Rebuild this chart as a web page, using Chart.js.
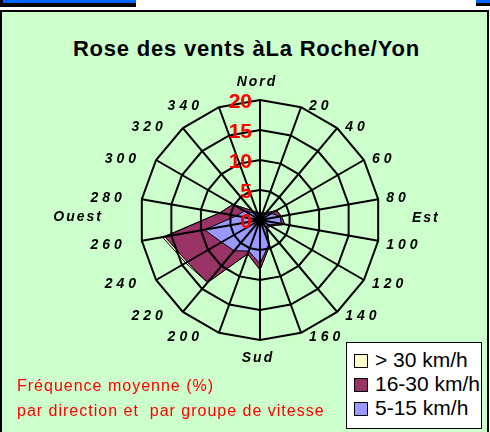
<!DOCTYPE html>
<html>
<head>
<meta charset="utf-8">
<title>Rose des vents</title>
<script src="https://cdn.jsdelivr.net/npm/chart.js@4.4.1/dist/chart.umd.min.js"></script>
<style>
    body { margin: 0; width: 490px; height: 432px; overflow: hidden; position: relative; background: #fff; font-family: Arial, "Liberation Sans", sans-serif; }
    .topbar { position: absolute; top: 0; height: 7px; background: #000; }
    .topbar span { position: absolute; top: 0; left: 3px; right: 0; height: 3px; background: #0066ff; }
    #frame { position: absolute; left: 0; top: 10px; width: 485px; height: 430px; background: #ccffcc; border: 2px solid #000; border-bottom: none; }
    #title { position: absolute; left: 0; top: 36px; width: 493px; text-align: center; font-weight: bold; font-size: 22px; line-height: 26px; letter-spacing: 0.8px; color: #000; }
    #chart { position: absolute; left: 0; top: 0; }
    #note { position: absolute; left: 17px; top: 373px; color: #ff0000; font-size: 16px; line-height: 25px; letter-spacing: 1px; white-space: pre; }
    #legend { position: absolute; left: 346px; top: 342px; width: 134px; height: 85px; background: #fff; border: 1.5px solid #000; }
    .item { position: absolute; left: 7px; height: 24px; font-size: 21px; line-height: 24px; white-space: nowrap; }
    .item i { display: inline-block; width: 12px; height: 12px; border: 1px solid #000; margin-right: 7px; vertical-align: -1px; }
</style>
</head>
<body>
<div class="topbar" style="left:0;width:136px"><span></span></div>
<div class="topbar" style="left:476px;width:14px;height:6px"><span style="left:0"></span></div>
<div id="frame"></div>
<div id="title">Rose des vents àLa Roche/Yon</div>
<canvas id="chart" width="490" height="432"></canvas>
<div id="note">Fréquence moyenne (%)
par direction et  par groupe de vitesse</div>
<div id="legend"></div>

<script>
// directions every 20 degrees, clockwise from north
const directions = ["Nord", "20", "40", "60", "80", "100", "120", "140", "160",
                    "Sud", "200", "220", "240", "260", "280", "300", "320", "340"];
const compassLabels = ["Est", "Ouest"];

const seriesNames = ["> 30 km/h", "16-30 km/h", "5-15 km/h"];
const seriesColors = ["#ffffcc", "#993366", "#9999ff"];

// cumulated frequency (%) per direction
const over30 = [1.2, 1.2, 1.5, 3.2, 3.6, 4.2, 2.0, 1.8, 4.6, 8.3, 6.0, 13.6, 14.3, 16.5, 6.8, 5.2, 2.0, 1.3];
const from16to30 = [1.2, 1.2, 1.5, 3.2, 3.6, 4.2, 2.0, 1.8, 4.6, 8.3, 6.0, 13.6, 14.0, 16.1, 6.8, 5.2, 2.0, 1.3];
const from5to15 = [1.0, 1.0, 1.2, 2.2, 3.4, 3.6, 1.6, 1.5, 4.3, 7.3, 5.5, 6.7, 7.4, 9.4, 4.0, 3.0, 1.5, 1.0];

const tickValues = [0, 5, 10, 15, 20];

// labels around the rose + red scale numbers
const roseLabels = {
    id: "roseLabels",
    afterDraw(chart) {
        const scale = chart.scales.r;
        const ctx = chart.ctx;
        const R = scale.drawingArea;
        const n = directions.length;

        ctx.save();
        ctx.fillStyle = "#000";
        ctx.font = "italic bold 14px Arial";

        directions.forEach((lab, i) => {
            const p = scale.getPointPosition(i, R);
            const deg = i * 360 / n;
            const sp = /^\d+$/.test(lab) ? 4 : 2;
            ctx.letterSpacing = sp + "px";
            if (deg === 0) {
                ctx.textAlign = "center";
                ctx.textBaseline = "alphabetic";
                ctx.fillText(lab, p.x - 4 + sp / 2, p.y - 14);
            } else if (deg === 180) {
                ctx.textAlign = "center";
                ctx.textBaseline = "alphabetic";
                ctx.fillText(lab, p.x - 3 + sp / 2, p.y + 22);
            } else {
                const dy = (deg > 90 && deg < 270) ? 4 : -1;
                ctx.textBaseline = "middle";
                if (deg < 180) {
                    ctx.textAlign = "left";
                    ctx.fillText(lab, p.x + 8, p.y + dy);
                } else {
                    ctx.textAlign = "right";
                    ctx.fillText(lab, p.x - 20 + sp, p.y + dy);
                }
            }
        });

        // east / west names sit between the spokes
        ctx.letterSpacing = "2px";
        ctx.textBaseline = "middle";
        ctx.textAlign = "left";
        ctx.fillText(compassLabels[0], scale.xCenter + R + 32, scale.yCenter - 2);
        ctx.textAlign = "right";
        ctx.fillText(compassLabels[1], scale.xCenter - R - 39 + 2, scale.yCenter - 3);

        // red tick numbers along the north spoke
        ctx.letterSpacing = "0px";
        ctx.font = "bold 21px Arial";
        ctx.fillStyle = "#ff0000";
        ctx.textAlign = "right";
        ctx.textBaseline = "middle";
        tickValues.forEach(v => {
            const d = scale.getDistanceFromCenterForValue(v);
            ctx.fillText(String(v), scale.xCenter - 8, scale.yCenter - d + 2);
        });
        ctx.restore();
    }
};

const seriesData = [over30, from16to30, from5to15];

new Chart(document.getElementById("chart"), {
    type: "radar",
    data: {
        labels: directions,
        datasets: seriesData.map((vals, k) => ({
            label: seriesNames[k],
            data: vals,
            backgroundColor: seriesColors[k],
            borderColor: "#000",
            borderWidth: 1,
            fill: true,
            pointRadius: 0,
            order: 3 - k // slowest winds painted on top
        }))
    },
    options: {
        responsive: false,
        animation: false,
        layout: { padding: { left: 140, right: 110, top: 100, bottom: 92 } },
        plugins: {
            legend: { display: false },
            title: { display: false },
            tooltip: { enabled: false }
        },
        scales: {
            r: {
                min: 0,
                max: 20,
                ticks: { display: false, stepSize: 5 },
                pointLabels: { display: false },
                grid: { color: "#000", lineWidth: 2, z: 1 },
                angleLines: { color: "#000", lineWidth: 2 }
            }
        },
        elements: { line: { tension: 0 } }
    },
    plugins: [roseLabels]
});

// legend box
const legend = document.getElementById("legend");
seriesNames.forEach((name, k) => {
    const row = document.createElement("div");
    row.className = "item";
    row.style.top = (5 + k * 24) + "px";
    row.innerHTML = `<i style="background:${seriesColors[k]}"></i>${name}`;
    legend.appendChild(row);
});
</script>
</body>
</html>
